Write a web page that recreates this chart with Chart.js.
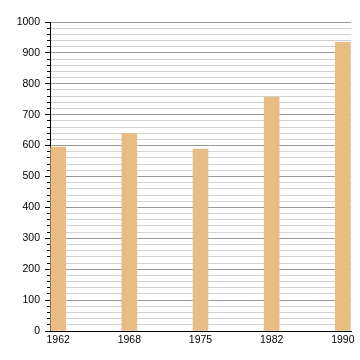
<!DOCTYPE html>
<html>
<head>
<meta charset="utf-8">
<script src="https://cdn.jsdelivr.net/npm/chart.js@4"></script>
<style>
  html, body { margin: 0; padding: 0; background: #fff; }
</style>
</head>
<body>
<canvas id="chart" width="360" height="360"></canvas>
<script>
const years = ['1962', '1968', '1975', '1982', '1990'];
const values = [595, 640, 589, 757, 934];
const yTicks = [0, 100, 200, 300, 400, 500, 600, 700, 800, 900, 1000];

Chart.defaults.font.family = '"Liberation Sans", Arial, sans-serif';
Chart.defaults.font.size = 10.5;
Chart.defaults.color = '#000';

const isMajor = (v) => yTicks.includes(v);

new Chart(document.getElementById('chart'), {
  type: 'bar',
  data: {
    datasets: [
      {
        data: values.map((v, i) => ({ x: i, y: v })),
        backgroundColor: '#e8bd84',
        borderWidth: 0,
        barThickness: 15,
      },
    ],
  },
  options: {
    responsive: false,
    animation: false,
    layout: { padding: { top: 22, right: 9, bottom: 0, left: 0 } },
    plugins: { legend: { display: false }, tooltip: { enabled: false } },
    scales: {
      x: {
        type: 'linear',
        min: -0.115,
        max: 4.115,
        offset: false,
        grid: { display: false, drawTicks: false },
        border: { display: true, color: '#000', width: 1 },
        ticks: {
          padding: 3,
          maxRotation: 0,
          callback: (v) => years[v],
        },
        afterBuildTicks: (axis) => {
          axis.ticks = years.map((y, i) => ({ value: i }));
        },
        afterFit: (axis) => { axis.height = 29; },
      },
      y: {
        min: 0,
        max: 1000,
        ticks: {
          stepSize: 20,
          padding: 5,
          autoSkip: false,
          callback: (v) => (isMajor(v) ? v : ''),
        },
        grid: {
          tickLength: 5,
          tickColor: '#000',
          color: (ctx) => (isMajor(ctx.tick.value) ? '#9a9a9a' : '#d2d2d2'),
          tickBorderDash: (ctx) => (isMajor(ctx.tick.value) ? [] : [0, 2, 3, 10]),
        },
        border: { display: true, color: '#000', width: 1 },
        afterFit: (axis) => { axis.width = 50; },
      },
    },
  },
});
</script>
</body>
</html>
